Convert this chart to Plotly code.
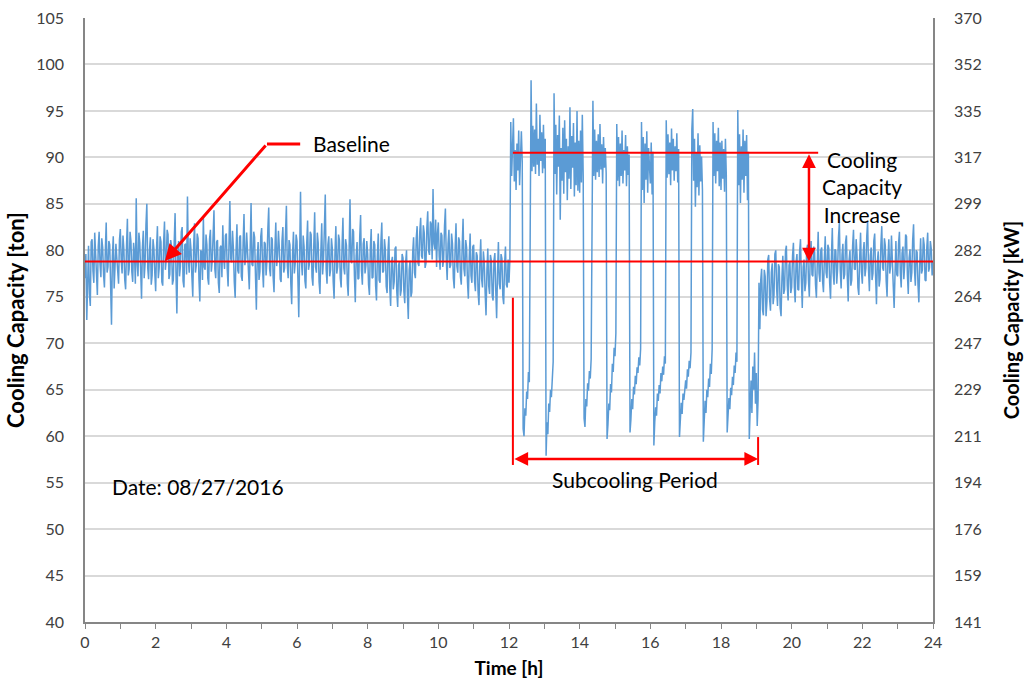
import plotly.graph_objects as go

# ---------------- data ----------------
time_step_h = 0.025  # one reading every 1.5 minutes, t = 0 ... 24 h

# Cooling capacity [ton]; each row = one hour (40 readings)
capacity_h00 = [77.0, 79.6, 72.5, 78.2, 80.5, 75.3, 74.0, 80.9, 81.2, 77.8,
                76.5, 81.9, 79.8, 76.9, 75.2, 80.4, 82.0, 78.5, 77.1, 81.3,
                80.3, 77.4, 76.0, 79.9, 83.0, 77.6, 78.2, 81.0, 80.6, 76.2,
                72.0, 79.4, 81.5, 75.9, 77.8, 80.7, 79.2, 77.0, 76.4, 81.1]
capacity_h01 = [82.3, 78.9, 77.5, 81.6, 80.1, 76.8, 75.8, 80.5, 83.4, 77.3,
                78.0, 82.0, 81.0, 77.7, 76.6, 80.8, 79.7, 76.4, 85.6, 78.6,
                77.2, 81.9, 80.8, 77.9, 74.8, 80.3, 82.1, 77.0, 78.5, 82.7,
                85.0, 78.1, 76.9, 80.0, 81.4, 76.3, 77.3, 81.2, 80.2, 77.6]
capacity_h02 = [75.6, 80.2, 82.6, 77.0, 78.1, 81.5, 80.9, 76.6, 76.2, 80.8,
                83.1, 77.9, 79.0, 82.2, 81.7, 76.9, 77.4, 81.1, 80.4, 76.3,
                76.8, 80.9, 84.0, 77.5, 73.2, 79.6, 81.0, 77.2, 78.3, 82.0,
                82.5, 76.7, 76.0, 80.6, 80.7, 77.4, 85.8, 79.0, 77.6, 81.3]
capacity_h03 = [80.1, 77.2, 75.0, 80.4, 82.9, 77.6, 78.4, 81.8, 81.3, 76.9,
                74.5, 80.0, 79.8, 76.8, 83.6, 78.2, 77.9, 81.7, 80.6, 77.0,
                76.3, 81.2, 82.2, 77.7, 78.8, 81.5, 84.3, 78.0, 77.0, 80.9,
                81.1, 76.5, 75.4, 80.3, 80.5, 77.1, 82.7, 79.2, 78.0, 81.6]
capacity_h04 = [81.8, 78.0, 76.1, 80.6, 85.3, 79.1, 78.7, 82.1, 80.2, 76.6,
                74.9, 79.9, 82.8, 77.8, 77.5, 81.4, 81.6, 77.2, 76.7, 80.8,
                83.9, 78.4, 79.2, 81.9, 80.0, 76.7, 75.8, 80.2, 85.1, 78.5,
                78.3, 82.0, 81.4, 77.3, 73.6, 79.3, 80.9, 76.8, 77.7, 81.5]
capacity_h05 = [82.4, 78.1, 76.0, 80.9, 80.7, 77.3, 78.9, 82.3, 84.6, 78.0,
                77.2, 81.4, 81.2, 77.1, 75.5, 80.1, 83.0, 78.3, 79.4, 82.1,
                80.3, 76.9, 76.6, 81.0, 82.5, 77.6, 78.1, 81.8, 84.8, 78.4,
                77.0, 81.1, 80.6, 76.4, 74.2, 79.7, 82.0, 77.5, 78.6, 81.7]
capacity_h06 = [81.0, 77.0, 72.8, 79.5, 86.3, 78.8, 77.3, 81.6, 80.4, 76.7,
                75.9, 80.7, 83.2, 77.9, 78.5, 82.0, 81.7, 77.1, 76.2, 80.5,
                84.1, 78.2, 77.6, 81.9, 80.8, 76.6, 75.3, 79.8, 82.9, 77.4,
                79.0, 82.4, 86.0, 78.0, 76.4, 80.6, 81.5, 77.2, 77.9, 81.3]
capacity_h07 = [80.2, 76.6, 74.8, 79.8, 82.6, 77.5, 78.2, 81.7, 81.1, 77.0,
                76.0, 80.4, 83.5, 78.1, 77.4, 81.2, 80.5, 76.4, 75.1, 80.0,
                85.5, 78.9, 78.6, 82.3, 82.0, 77.3, 74.4, 79.4, 80.9, 76.9,
                77.0, 81.4, 83.8, 77.8, 76.3, 80.7, 81.3, 77.5, 78.4, 81.0]
capacity_h08 = [79.6, 76.3, 75.2, 80.1, 82.3, 77.0, 77.1, 81.0, 80.6, 76.2,
                74.6, 79.5, 81.8, 76.8, 76.5, 80.9, 83.0, 77.6, 77.8, 81.2,
                80.1, 76.1, 75.4, 79.9, 81.5, 76.0, 74.0, 78.8, 79.3, 75.8,
                76.6, 80.2, 80.4, 75.5, 73.9, 78.4, 78.8, 75.1, 75.7, 79.6]
capacity_h09 = [79.2, 75.6, 74.3, 78.7, 80.0, 75.2, 72.6, 77.9, 78.9, 75.0,
                75.5, 79.8, 81.4, 77.6, 77.0, 81.3, 82.6, 78.6, 78.3, 82.0,
                83.5, 79.4, 79.1, 82.7, 81.9, 78.1, 78.6, 82.4, 84.2, 79.9,
                79.5, 83.1, 82.8, 79.0, 86.6, 80.7, 80.1, 83.3, 78.2, 81.8]
capacity_h10 = [83.0, 79.3, 77.9, 81.9, 81.6, 78.2, 79.0, 82.6, 84.5, 79.0,
                76.8, 80.7, 82.2, 78.1, 78.4, 81.8, 80.7, 77.0, 75.9, 80.2,
                82.9, 78.3, 77.6, 81.4, 81.0, 77.2, 76.3, 80.5, 83.4, 78.0,
                77.2, 81.1, 80.3, 76.6, 74.8, 79.2, 81.8, 77.3, 76.5, 80.4]
capacity_h11 = [80.6, 76.7, 75.6, 79.8, 79.4, 75.5, 74.1, 78.6, 81.2, 76.9,
                76.0, 79.9, 78.7, 75.4, 73.0, 77.8, 80.2, 76.2, 75.3, 79.5,
                78.9, 75.1, 74.6, 78.9, 79.7, 75.7, 72.7, 77.6, 80.9, 76.4,
                75.8, 79.6, 79.1, 75.0, 74.2, 78.5, 80.4, 76.3, 76.0, 79.0]
capacity_h12 = [76.5, 79.0, 93.8, 88.0, 92.5, 94.2, 87.4, 90.8, 86.5, 91.5,
                88.6, 92.9, 87.0, 90.4, 92.8, 89.5, 60.8, 60.0, 63.0, 62.2,
                64.8, 64.0, 66.9, 65.8, 91.0, 98.3, 88.5, 93.4, 89.0, 93.0,
                88.2, 95.8, 89.2, 92.0, 88.0, 94.6, 89.6, 92.7, 88.3, 93.5]
capacity_h13 = [88.8, 92.0, 57.9, 61.5, 60.2, 63.5, 62.6, 65.0, 64.2, 66.5,
                68.0, 96.9, 88.2, 93.5, 86.0, 92.4, 89.0, 94.5, 83.3, 91.0,
                87.5, 93.2, 86.1, 94.0, 88.4, 92.0, 85.4, 91.2, 87.7, 95.4,
                86.6, 92.3, 88.9, 93.7, 85.8, 91.6, 87.0, 95.0, 86.4, 91.8]
capacity_h14 = [86.2, 92.9, 87.3, 94.6, 88.0, 61.9, 61.0, 64.0, 63.2, 65.7,
                64.9, 67.0, 66.2, 68.3, 92.0, 96.1, 88.0, 93.0, 87.6, 91.8,
                88.4, 92.5, 87.9, 93.6, 88.7, 91.4, 87.2, 92.2, 88.9, 91.0,
                88.3, 59.7, 61.2, 63.5, 62.8, 65.6, 64.7, 67.8, 66.9, 69.5]
capacity_h15 = [68.6, 71.1, 93.6, 87.5, 92.2, 86.9, 91.5, 88.0, 92.9, 87.2,
                90.8, 88.6, 92.4, 86.9, 91.2, 88.1, 90.3, 60.4, 61.8, 64.0,
                62.9, 65.3, 64.5, 66.5, 65.6, 67.4, 66.8, 68.5, 67.6, 69.4,
                93.8, 86.5, 92.2, 85.1, 91.5, 87.6, 92.8, 86.2, 91.0, 87.9]
capacity_h16 = [87.2, 91.6, 86.0, 90.6, 59.0, 61.5, 63.1, 62.2, 64.6, 63.8,
                65.5, 64.6, 66.8, 65.9, 67.5, 66.6, 68.6, 67.8, 94.0, 87.8,
                92.5, 88.2, 91.6, 87.0, 93.1, 88.6, 92.0, 87.5, 91.2, 88.5,
                92.6, 87.3, 90.9, 59.9, 62.0, 63.6, 62.4, 64.6, 63.9, 65.4]
capacity_h17 = [66.0, 65.1, 67.2, 66.4, 68.1, 67.3, 69.0, 93.0, 95.2, 87.5,
                92.0, 84.7, 90.5, 86.8, 92.6, 85.9, 91.3, 87.4, 90.1, 86.5,
                59.4, 61.6, 63.8, 62.5, 65.0, 64.2, 66.2, 65.3, 67.8, 66.7,
                69.4, 93.8, 88.0, 92.6, 87.2, 91.8, 88.5, 93.2, 86.9, 91.6]
capacity_h18 = [86.5, 91.8, 87.7, 90.9, 86.3, 92.0, 88.1, 60.4, 62.0, 64.1,
                62.9, 65.2, 64.4, 66.4, 65.5, 67.6, 66.8, 69.0, 68.0, 95.1,
                87.0, 92.5, 85.1, 91.2, 87.6, 93.0, 86.2, 91.8, 88.0, 92.4,
                85.4, 90.6, 59.7, 64.0, 66.0, 62.5, 67.5, 65.0, 69.0, 63.5]
capacity_h19 = [66.8, 61.1, 64.0, 76.5, 71.5, 76.8, 78.0, 73.6, 73.0, 77.9,
                77.2, 72.9, 74.5, 79.0, 79.5, 74.8, 73.5, 77.6, 78.6, 74.2,
                75.2, 79.6, 80.0, 75.9, 74.0, 78.5, 78.2, 73.8, 72.9, 77.1,
                79.4, 75.3, 75.8, 79.9, 80.5, 76.2, 74.6, 78.4, 78.8, 75.4]
capacity_h20 = [76.0, 79.4, 80.8, 76.1, 74.4, 78.7, 79.6, 75.8, 75.7, 79.9,
                81.2, 76.9, 73.8, 78.2, 79.0, 75.6, 76.5, 80.1, 80.6, 76.8,
                75.0, 79.3, 81.0, 77.4, 77.2, 80.4, 79.8, 76.3, 74.9, 78.6,
                82.0, 77.5, 76.6, 80.0, 80.3, 76.7, 75.5, 79.1, 81.5, 77.6]
capacity_h21 = [77.0, 80.6, 80.2, 76.5, 74.8, 79.3, 82.4, 77.6, 76.3, 80.1,
                79.9, 76.4, 78.0, 81.4, 83.0, 77.8, 75.9, 79.5, 80.7, 76.9,
                77.4, 80.9, 81.6, 77.1, 74.5, 78.9, 80.0, 76.2, 76.8, 80.5,
                82.2, 78.0, 77.9, 81.2, 79.5, 76.0, 75.2, 79.2, 81.9, 77.7]
capacity_h22 = [76.4, 79.8, 80.9, 77.2, 78.1, 81.5, 83.1, 77.9, 75.6, 79.4,
                80.3, 76.8, 77.5, 81.0, 81.8, 77.3, 74.2, 78.8, 79.9, 76.1,
                76.9, 80.6, 82.6, 78.1, 77.8, 81.3, 80.5, 76.7, 75.0, 79.1,
                81.2, 77.5, 78.3, 81.6, 79.6, 76.2, 73.8, 78.4, 81.0, 77.4]
capacity_h23 = [77.2, 80.7, 82.0, 77.6, 76.0, 79.7, 80.4, 76.9, 78.5, 81.7,
                81.5, 77.4, 75.3, 79.2, 80.1, 76.6, 77.6, 81.1, 82.8, 78.0,
                76.2, 80.0, 79.8, 76.3, 74.4, 78.6, 81.3, 77.5, 77.9, 81.4,
                80.6, 76.8, 76.7, 80.3, 81.9, 77.7, 78.1, 81.0, 80.2, 77.3]
capacity_h24 = [78.8]

baseline_ton = 78.8         # red "Baseline" level
subcooling_ton = 90.5       # red level during subcooling
subcool_start_h = 12.11
subcool_end_h = 19.05

x_tick_vals = [0, 2, 4, 6, 8, 10, 12, 14, 16, 18, 20, 22, 24]
ton_tick_vals = [40, 45, 50, 55, 60, 65, 70, 75, 80, 85, 90, 95, 100, 105]
kw_tick_labels = ["141", "159", "176", "194", "211", "229", "247", "264",
                  "282", "299", "317", "335", "352", "370"]

# ---------------- assemble ----------------
capacity_ton = (capacity_h00 + capacity_h01 + capacity_h02 + capacity_h03 + capacity_h04 +
                capacity_h05 + capacity_h06 + capacity_h07 + capacity_h08 + capacity_h09 +
                capacity_h10 + capacity_h11 + capacity_h12 + capacity_h13 + capacity_h14 +
                capacity_h15 + capacity_h16 + capacity_h17 + capacity_h18 + capacity_h19 +
                capacity_h20 + capacity_h21 + capacity_h22 + capacity_h23 + capacity_h24)
time_h = [round(i * time_step_h, 4) for i in range(len(capacity_ton))]

BLUE = "#5B9BD5"
RED = "#FF0000"
GRID = "#D9D9D9"
AXIS = "#868686"
TXT = "#404040"
FONT = "Lato, 'Open Sans', sans-serif"
ANN = 21

fig = go.Figure()
fig.add_trace(go.Scatter(x=time_h, y=capacity_ton, mode="lines",
                         line=dict(color=BLUE, width=1.5), showlegend=False,
                         hoverinfo="skip"))
# invisible trace to activate right axis
fig.add_trace(go.Scatter(x=[0], y=[baseline_ton], yaxis="y2", mode="markers",
                         marker=dict(opacity=0), showlegend=False, hoverinfo="skip"))

shapes = []
shapes.append(dict(type="line", xref="x", yref="y", x0=0, x1=24, y0=baseline_ton, y1=baseline_ton,
                   line=dict(color=RED, width=2)))
shapes.append(dict(type="line", xref="x", yref="y", x0=subcool_start_h, x1=20.75,
                   y0=subcooling_ton, y1=subcooling_ton, line=dict(color=RED, width=2)))
shapes.append(dict(type="line", xref="x", yref="y", x0=5.15, x1=6.09, y0=91.45, y1=91.45,
                   line=dict(color=RED, width=3)))
shapes.append(dict(type="line", xref="x", yref="y", x0=subcool_start_h, x1=subcool_start_h,
                   y0=74.9, y1=56.9, line=dict(color=RED, width=2)))
shapes.append(dict(type="line", xref="x", yref="y", x0=subcool_end_h, x1=subcool_end_h,
                   y0=59.9, y1=56.9, line=dict(color=RED, width=2)))

annotations = []
annotations.append(dict(x=2.26, y=baseline_ton + 0.05, ax=5.15, ay=91.45, xref="x", yref="y",
                        axref="x", ayref="y", text="", showarrow=True, arrowhead=2,
                        arrowsize=1.1, arrowwidth=3, arrowcolor=RED))
annotations.append(dict(x=6.4, y=91.45, xref="x", yref="y", text="Baseline", showarrow=False,
                        xanchor="left", yanchor="middle", font=dict(family=FONT, size=ANN, color="#000000")))
annotations.append(dict(x=20.49, y=baseline_ton, ax=20.49, ay=subcooling_ton, xref="x", yref="y",
                        axref="x", ayref="y", text="", showarrow=True, arrowhead=2, arrowside="end+start",
                        arrowsize=1.1, arrowwidth=2.5, arrowcolor=RED))
annotations.append(dict(x=22.0, y=86.8, xref="x", yref="y",
                        text="Cooling<br>Capacity<br>Increase", showarrow=False,
                        xanchor="center", yanchor="middle", align="center",
                        font=dict(family=FONT, size=ANN, color="#000000")))
annotations.append(dict(x=subcool_end_h, y=57.55, ax=subcool_start_h, ay=57.55, xref="x", yref="y",
                        axref="x", ayref="y", text="", showarrow=True, arrowhead=2, arrowside="end+start",
                        arrowsize=1.1, arrowwidth=2.5, arrowcolor=RED))
annotations.append(dict(x=15.57, y=55.3, xref="x", yref="y", text="Subcooling Period",
                        showarrow=False, xanchor="center", yanchor="middle",
                        font=dict(family=FONT, size=ANN, color="#000000")))
annotations.append(dict(x=0.71, y=54.6, xref="x", yref="y", text="Date: 08/27/2016",
                        showarrow=False, xanchor="left", yanchor="middle",
                        font=dict(family=FONT, size=ANN, color="#000000")))

fig.update_layout(
    width=1024, height=690, autosize=False,
    paper_bgcolor="white", plot_bgcolor="white",
    margin=dict(l=85, r=91, t=18, b=68),
    font=dict(family=FONT, size=16, color=TXT),
    shapes=shapes, annotations=annotations,
    xaxis=dict(range=[0, 24], tickvals=x_tick_vals, showgrid=False, zeroline=False,
               showline=True, linecolor=AXIS, linewidth=1.5, automargin=False,
               ticks="outside", ticklen=5, tickcolor=AXIS,
               minor=dict(ticks="outside", dtick=1, ticklen=5, tickcolor=AXIS),
               tickfont=dict(family=FONT, size=16, color=TXT),
               title=dict(text="<b>Time [h]</b>", font=dict(family=FONT, size=19, color="#000000"),
                          standoff=12)),
    yaxis=dict(range=[40, 105], tickvals=ton_tick_vals, showgrid=True, gridcolor=GRID, gridwidth=1.5,
               zeroline=False, showline=True, linecolor=AXIS, linewidth=1.5, ticks="",
               ticklabelstandoff=16, automargin=False,
               tickfont=dict(family=FONT, size=16, color=TXT),
               title=dict(text="<b>Cooling Capacity [ton]</b>",
                          font=dict(family=FONT, size=22, color="#000000"), standoff=6)),
    yaxis2=dict(range=[40, 105], overlaying="y", side="right", tickvals=ton_tick_vals,
                ticktext=kw_tick_labels, showgrid=False, zeroline=False, showline=True,
                linecolor=AXIS, linewidth=1.5, ticks="", ticklabelstandoff=16, automargin=False,
                tickfont=dict(family=FONT, size=16, color=TXT),
                title=dict(text="<b>Cooling Capacity [kW]</b>",
                           font=dict(family=FONT, size=20, color="#000000"), standoff=24)),
)

fig.write_html("out.html", config={"displayModeBar": False},
               post_script="document.body.style.margin='0';")
